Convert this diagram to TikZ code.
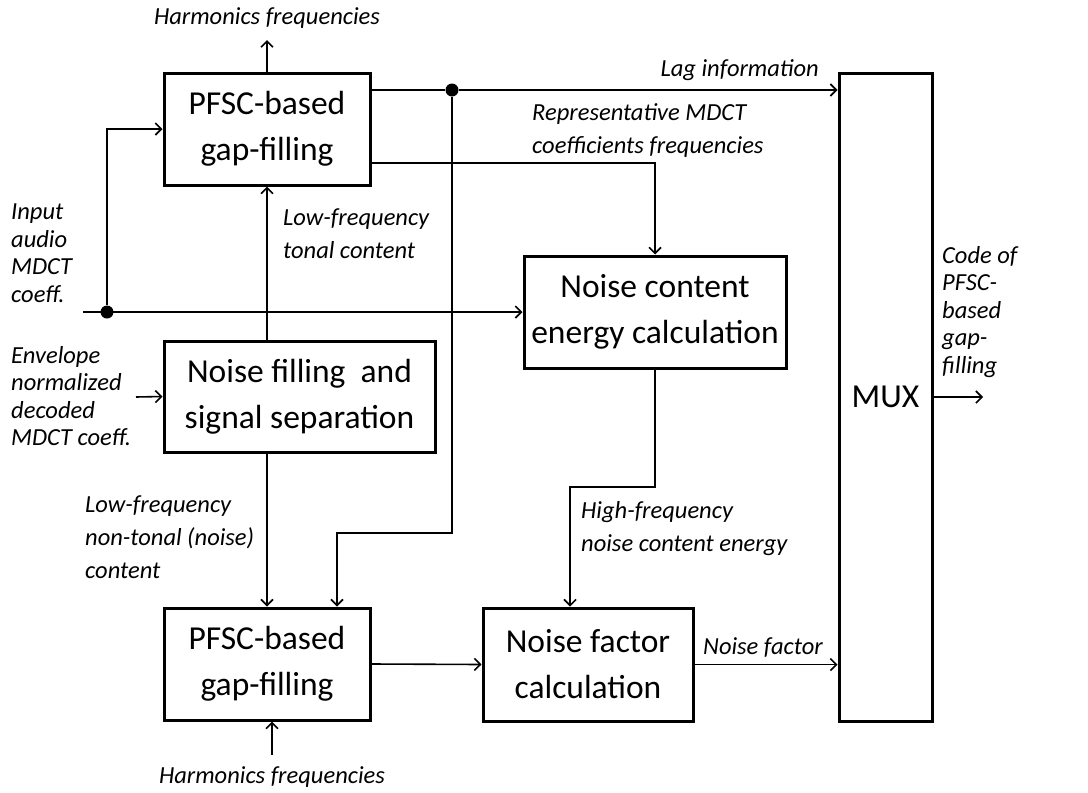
\documentclass[tikz,border=0pt]{standalone}
\usepackage{fontspec}
\setmainfont{Carlito}
\usetikzlibrary{arrows.meta, calc}

\tikzset{
  block/.style={draw, line width=3pt, align=center, inner sep=0pt,
    font=\fontsize{33.5}{46}\selectfont},
  lbl/.style={font=\fontsize{24.5}{27.5}\selectfont\itshape, align=left, inner sep=0pt},
  lblwide/.style={lbl, font=\fontsize{24.5}{33}\selectfont\itshape},
  sig/.style={line width=1.6pt, -{Straight Barb[length=6pt,width=12pt]}},
  wire/.style={line width=1.6pt},
  junc/.style={circle, fill, inner sep=0pt, minimum size=13pt}
}

\begin{document}
\begin{tikzpicture}[x=1pt, y=-1pt]
  \useasboundingbox (0,0) rectangle (1088,793);
  % processing blocks
  \node[block, minimum width=206pt, minimum height=112pt] (pfscA) at (267,129) {PFSC-based\\gap-filling};
  \node[block, minimum width=271pt, minimum height=111pt] (nfill) at (299.5,396.5) {Noise filling\ \ and\\signal separation};
  \node[block, minimum width=262pt, minimum height=112pt] (ncont) at (655,312) {Noise content\\energy calculation};
  \node[block, minimum width=206pt, minimum height=112pt] (pfscB) at (267,664) {PFSC-based\\gap-filling};
  \node[block, minimum width=210pt, minimum height=113pt] (nfac) at (588,664.5) {Noise factor\\calculation};
  \node[block, minimum width=93pt, minimum height=648pt] (mux) at (885.5,397) {MUX};
  % junctions and free ends
  \node[junc] (tap) at (452,90) {};
  \node[junc] (inDot) at (107,312) {};
  \coordinate (inStart) at (83,312);
  \coordinate (envIn) at (136,397);
  \coordinate (harmTop) at (267,40);
  \coordinate (harmBot) at (272,755);
  \coordinate (bendA) at (337,533);
  \coordinate (bendB) at (570,487);
  \coordinate (out) at (983,397);
  % connections
  \draw[sig] (harmTop |- pfscA.north) -- (harmTop);
  \draw[wire] (pfscA.east |- tap) -- (tap);
  \draw[sig] (tap) -- (mux.west |- tap);
  \draw[sig] ($(pfscA.east)+(0,34)$) -| (ncont.north);
  \draw[sig] (tap) -- (tap |- bendA) -- (bendA) -- (bendA |- pfscB.north);
  \draw[sig] (inStart) -- (ncont.west);
  \draw[sig] (inDot) |- (pfscA.west);
  \draw[sig] (pfscA.south |- nfill.north) -- (pfscA.south);
  \draw[sig] (envIn) -- (nfill.west);
  \draw[sig] (pfscA.south |- nfill.south) -- (pfscB.north);
  \draw[sig] (harmBot) -- (harmBot |- pfscB.south);
  \draw[sig] (pfscB.east) -- (nfac.west);
  \draw[sig] (ncont.south) |- (bendB) -- (bendB |- nfac.north);
  \draw[sig] (nfac.east) -- (mux.west |- nfac.east);
  \draw[sig] (mux.east) -- (out);
  % signal labels
  \node[lbl] (lHarmA) at (267,18) {Harmonics frequencies};
  \node[lbl, anchor=east] (lLag) at (819,70) {Lag information};
  \node[lblwide, anchor=west] (lRep) at (532,131) {Representative MDCT\\coefficients frequencies};
  \node[lbl, anchor=west] (lIn) at (11,253) {Input\\audio\\MDCT\\coeff.};
  \node[lblwide, anchor=west] (lTonal) at (283,234) {Low-frequency\\tonal content};
  \node[lbl, anchor=west] (lEnv) at (11,396) {Envelope\\normalized\\decoded\\MDCT coeff.};
  \node[lblwide, anchor=west] (lNoise) at (85,537) {Low-frequency\\non-tonal (noise)\\content};
  \node[lbl] (lHarmB) at (272,777) {Harmonics frequencies};
  \node[lblwide, anchor=west] (lHigh) at (581,529) {High-frequency\\noise content energy};
  \node[lbl, anchor=west] (lFac) at (703,647) {Noise factor};
  \node[lbl, anchor=west] (lCode) at (942,312) {Code of\\PFSC-\\based\\gap-\\filling};
\end{tikzpicture}
\end{document}
